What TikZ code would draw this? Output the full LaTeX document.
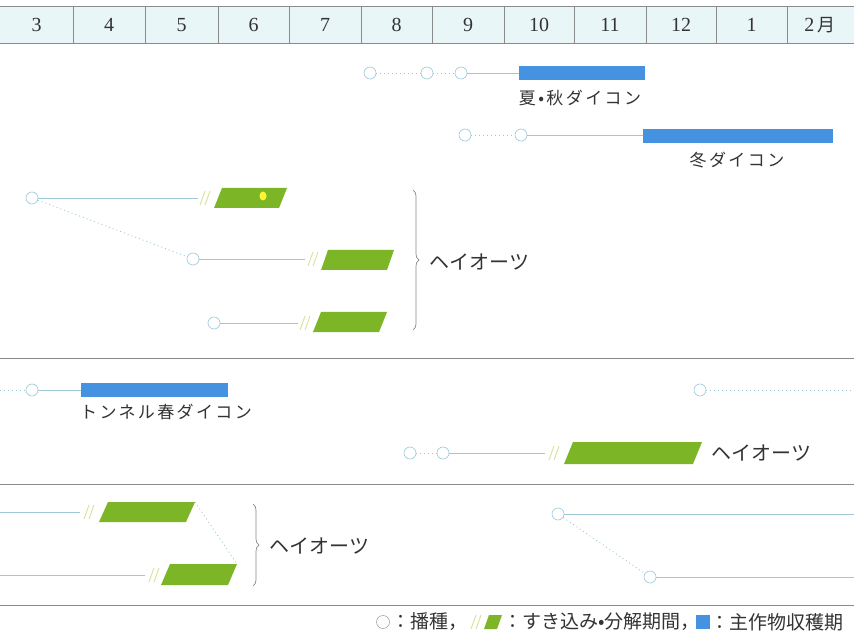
\documentclass[tikz,border=0pt]{standalone}
\usepackage{fontspec}
\setmainfont{Liberation Serif}
\newfontfamily\jp{Noto Sans CJK JP}
\newfontfamily\jpw[LetterSpace=14]{Noto Sans CJK JP}
\usetikzlibrary{decorations.pathreplacing}
\definecolor{hdr}{HTML}{E8F6F8}
\definecolor{lnblue}{HTML}{9CC8D8}
\definecolor{barblue}{HTML}{4593E0}
\definecolor{oat}{HTML}{7CB526}
\definecolor{slashc}{HTML}{D6E49A}
\definecolor{rulec}{HTML}{8A8A8A}
\definecolor{txt}{HTML}{333333}
\newcommand\dslash[2]{%
  \draw[slashc,line width=0.9pt] ({#1},{#2+7}) -- ++(5,-14);
  \draw[slashc,line width=0.9pt] ({#1+5},{#2+7}) -- ++(5,-14);}
\newcommand\oatpara[5]{% tl x, tr x, top y, bottom y, skew
  \fill[oat] (#1,#3) -- (#2,#3) -- ({#2-#5},#4) -- ({#1-#5},#4) -- cycle;}
\begin{document}
\begin{tikzpicture}[x=1pt,y=-1pt,
  sow/.style={circle,draw=lnblue,fill=white,minimum size=12pt,inner sep=0pt,line width=0.6pt},
  solidln/.style={draw=lnblue,line width=0.8pt},
  dotln/.style={draw=lnblue,line width=0.8pt,dash pattern=on 1pt off 3pt},
  bar/.style={fill=barblue},
  hnum/.style={font=\fontsize{20}{21}\selectfont,text=txt},
  mlabel/.style={font=\jpw\fontsize{17}{18}\selectfont,text=txt},
  glabel/.style={font=\jp\fontsize{20}{21}\selectfont,text=txt},
  lgtext/.style={font=\jp\fontsize{19}{20}\selectfont,text=txt,anchor=west,inner sep=0pt},
  brace/.style={draw=rulec,line width=0.7pt,decorate,decoration={brace,amplitude=6pt}},
  sep/.style={draw=rulec,line width=0.8pt}]
\useasboundingbox (0,0) rectangle (854,636);
\fill[white] (0,0) rectangle (854,636);
\begin{scope}
\clip (0,0) rectangle (854,636);
% header
\fill[hdr] (0,6) rectangle (854,43);
\draw[rulec,line width=0.8pt] (0,6) -- (854,6);
\draw[rulec,line width=0.8pt] (0,43) -- (854,43);
\foreach \b in {73,145,218,289,361,432,504,574,646,716,787}
  \draw[rulec,line width=0.6pt] (\b,6) -- (\b,43);
\foreach \c/\t [count=\i] in {36.5/3,109/4,181.5/5,253.5/6,325/7,396.5/8,468/9,539/10,610/11,681/12,751.5/1}
  \node[hnum] (h\i) at (\c,25) {\t};
\node[hnum] (h12) at (820,25) {2\,{\jp\fontsize{18}{19}\selectfont 月}};

% row: summer/autumn daikon
\node[sow] (a1) at (370,73) {};
\node[sow] (a2) at (427,73) {};
\node[sow] (a3) at (461,73) {};
\coordinate (a4) at (519,73);
\draw[dotln] (a1) -- (a2);
\draw[dotln] (a2) -- (a3);
\draw[solidln] (a3) -- (a4);
\fill[bar] (519,66) rectangle (645,80);
\node[mlabel] (la) at (580,98) {夏•秋ダイコン};

% row: winter daikon
\node[sow] (b1) at (465,135) {};
\node[sow] (b2) at (521,135) {};
\coordinate (b3) at (643,135);
\draw[dotln] (b1) -- (b2);
\draw[solidln] (b2) -- (b3);
\fill[bar] (643,129) rectangle (833,143);
\node[mlabel] (lb) at (737,160) {冬ダイコン};

% hay oats group 1
\node[sow] (c1) at (32,198) {};
\coordinate (c1e) at (198,198);
\draw[solidln] (c1) -- (c1e);
\dslash{200}{198}
\oatpara{222}{287}{188}{208}{8}
\fill[yellow!80!white] (263,196) ellipse (3.5 and 4.5);
\node[sow] (c2) at (193,259) {};
\draw[dotln] (c1) -- (c2);
\coordinate (c2e) at (305,259);
\draw[solidln] (c2) -- (c2e);
\dslash{308}{259}
\oatpara{328}{394}{250}{270}{7}
\node[sow] (c3) at (214,323) {};
\coordinate (c3e) at (298,323);
\draw[solidln] (c3) -- (c3e);
\dslash{300}{323}
\oatpara{321}{387}{312}{332}{8}
\draw[brace] (413,190) -- (413,330);
\node[glabel,anchor=west] (lc) at (426,262) {ヘイオーツ};

\draw[sep] (0,358) -- (854,358);

% tunnel spring daikon
\coordinate (d0) at (0,390);
\node[sow] (d1) at (32,390) {};
\coordinate (d2) at (81,390);
\draw[dotln] (d0) -- (d1);
\draw[solidln] (d1) -- (d2);
\fill[bar] (81,383) rectangle (228,397);
\node[mlabel] (ld) at (166,412) {トンネル春ダイコン};
\node[sow] (e1) at (700,390) {};
\coordinate (e2) at (854,390);
\draw[dotln] (e1) -- (e2);

% hay oats section 2
\node[sow] (f1) at (410,453) {};
\node[sow] (f2) at (443,453) {};
\coordinate (f3) at (545,453);
\draw[dotln] (f1) -- (f2);
\draw[solidln] (f2) -- (f3);
\dslash{549}{453}
\oatpara{573}{702}{442}{464}{9}
\node[glabel,anchor=west] (lf) at (708,453) {ヘイオーツ};

\draw[sep] (0,484) -- (854,484);

% section 3
\coordinate (g0) at (0,512);
\coordinate (g1) at (80,512);
\draw[solidln] (g0) -- (g1);
\dslash{84}{512}
\oatpara{108}{195}{502}{522}{9}
\coordinate (g0b) at (0,575);
\coordinate (g1b) at (145,575);
\draw[solidln] (g0b) -- (g1b);
\dslash{149}{575}
\oatpara{170}{237}{564}{585}{9}
\coordinate (gt1) at (195,502);
\coordinate (gt2) at (237,564);
\draw[dotln] (gt1) -- (gt2);
\draw[brace] (253,504) -- (253,586);
\node[glabel,anchor=west] (lg) at (266,546) {ヘイオーツ};

\node[sow] (k1) at (558,514) {};
\coordinate (k1e) at (854,514);
\draw[solidln] (k1) -- (k1e);
\node[sow] (k2) at (650,577) {};
\coordinate (k2e) at (854,577);
\draw[dotln] (k1) -- (k2);
\draw[solidln] (k2) -- (k2e);

\draw[sep] (0,605) -- (854,605);

% legend
\node[sow,draw=gray!70,minimum size=13pt] (lg1) at (383,622) {};
\node[lgtext] (lt1) at (391,622) {：播種，};
\dslash{471}{622}
\oatpara{489}{502}{615}{629}{5}
\node[lgtext] (lt2) at (503,622) {：すき込み•分解期間，};
\fill[barblue] ([xshift=-4pt]lt2.east |- 0,615) rectangle ++(14,14);
\node[lgtext] (lt3) at ([xshift=10pt]lt2.east) {：主作物収穫期};
\end{scope}
\end{tikzpicture}
\end{document}
